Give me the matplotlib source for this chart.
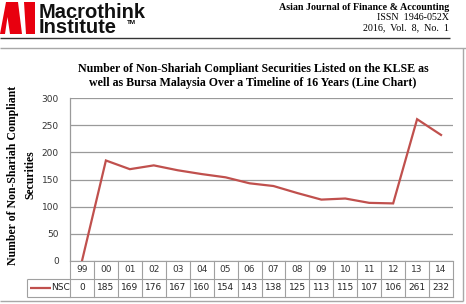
import matplotlib
matplotlib.use("Agg")
import matplotlib.pyplot as plt
from matplotlib.lines import Line2D
from matplotlib.patches import Polygon
from matplotlib.transforms import blended_transform_factory

years = ["99", "00", "01", "02", "03", "04", "05", "06", "07", "08", "09", "10", "11", "12", "13", "14"]
nsc = [0, 185, 169, 176, 167, 160, 154, 143, 138, 125, 113, 115, 107, 106, 261, 232]
series_name = "NSC"
yticks = [0, 50, 100, 150, 200, 250, 300]

W, H = 466, 304
fig = plt.figure(figsize=(W / 100, H / 100), dpi=100)
fig.patch.set_facecolor("white")

def fx(x):
    return x / W

def fy(y):
    return 1 - y / H

def fline(x0, y0, x1, y1, color, lw):
    fig.add_artist(Line2D([fx(x0), fx(x1)], [fy(y0), fy(y1)], transform=fig.transFigure,
                          color=color, lw=lw, solid_capstyle="butt"))

# ---- Header ----
red = "#e8000f"
for pts in ([(0, 34), (6, 2), (18, 2), (22, 34), (10, 34), (7.5, 17), (5, 34)],
            [(24, 2), (35, 2), (35, 34), (26, 34)]):
    fig.add_artist(Polygon([(fx(a), fy(b)) for a, b in pts], closed=True,
                           transform=fig.transFigure, color=red, lw=0))
fig.text(fx(39), fy(33), "Macrothink\nInstitute", fontsize=14.5, fontweight="bold",
         family="Liberation Sans", va="baseline", ha="left", linespacing=0.74,
         color="#111111")
fig.text(fx(127), fy(23), "TM", fontsize=4.5, fontweight="bold",
         family="Liberation Sans", va="center", ha="left")
fig.text(fx(449), fy(7), "Asian Journal of Finance & Accounting", fontsize=7.2,
         fontweight="bold", family="Liberation Serif", ha="right", va="center")
fig.text(fx(449), fy(17.5), "ISSN  1946-052X", fontsize=7.2,
         family="Liberation Serif", ha="right", va="center")
fig.text(fx(449), fy(28), "2016,  Vol.  8,  No.  1", fontsize=7.2,
         family="Liberation Serif", ha="right", va="center")
fline(0, 38, 450, 38, "#333333", 1.0)

# outer chart frame
frame = "#a8a8a8"
fline(0, 48, 466, 48, frame, 1.0)
fline(463, 48, 463, 301, frame, 1.0)
fline(0, 301, 463, 301, frame, 1.0)

# ---- Axes ----
L, R, T, B = 70, 453, 98, 261
ax = fig.add_axes([fx(L), fy(B), fx(R) - fx(L), fy(T) - fy(B)])
xs = [i + 0.5 for i in range(len(years))]
ax.plot(xs, nsc, color="#c0504d", lw=1.6, solid_joinstyle="miter")
ax.set_xlim(0, len(years))
ax.set_ylim(0, 300)
ax.set_yticks(yticks)
ax.set_yticklabels([str(v) for v in yticks], family="DejaVu Sans", fontsize=6.5, color="#333333")
ax.tick_params(axis="y", length=0, pad=8)
ax.set_xticks([])
ax.yaxis.grid(True, color="#9a9a9a", lw=0.9)
ax.set_axisbelow(True)
for s in ("top", "right", "bottom"):
    ax.spines[s].set_visible(False)
ax.spines["left"].set_color("#9a9a9a")
ax.spines["left"].set_linewidth(0.9)

# title
fig.text(fx(253), fy(69), "Number of Non-Shariah Compliant Securities Listed on the KLSE as",
         fontsize=8.6, fontweight="bold", family="Liberation Serif", ha="center", va="center")
fig.text(fx(253), fy(83), "well as Bursa Malaysia Over a Timeline of 16 Years (Line Chart)",
         fontsize=8.6, fontweight="bold", family="Liberation Serif", ha="center", va="center")

# y label
fig.text(fx(13), fy(175), "Number of Non-Shariah Compliant", fontsize=8.5, fontweight="bold",
         family="Liberation Serif", rotation=90, ha="center", va="center")
fig.text(fx(30), fy(175), "Securities", fontsize=8.5, fontweight="bold",
         family="Liberation Serif", rotation=90, ha="center", va="center")

# ---- Data table ----
tr = blended_transform_factory(ax.transData, fig.transFigure)
grid = "#a0a0a0"
r0, r1, r2 = 261, 279, 297
for i in range(len(years) + 1):
    ax.add_artist(Line2D([i, i], [fy(r0), fy(r2)], transform=tr, color=grid, lw=0.8, clip_on=False))
for r in (r0, r1, r2):
    ax.add_artist(Line2D([0, len(years)], [fy(r), fy(r)], transform=tr, color=grid, lw=0.8, clip_on=False))
for x, lab, v in zip(xs, years, nsc):
    ax.text(x, fy((r0 + r1) / 2), lab, transform=tr, ha="center", va="center",
            fontsize=6.5, family="DejaVu Sans", color="#333333")
    ax.text(x, fy((r1 + r2) / 2), str(v), transform=tr, ha="center", va="center",
            fontsize=6.5, family="DejaVu Sans", color="#222222")
# legend cell
fline(27, r1, 70, r1, grid, 0.8)
fline(27, r2, 70, r2, grid, 0.8)
fline(27, r1, 27, r2, grid, 0.8)
fline(30, (r1 + r2) / 2, 51, (r1 + r2) / 2, "#c0504d", 1.6)
fig.text(fx(51), fy((r1 + r2) / 2), series_name, fontsize=6.5, family="DejaVu Sans",
         ha="left", va="center", color="#222222")

fig.savefig("out.png", dpi=100, facecolor="white")
